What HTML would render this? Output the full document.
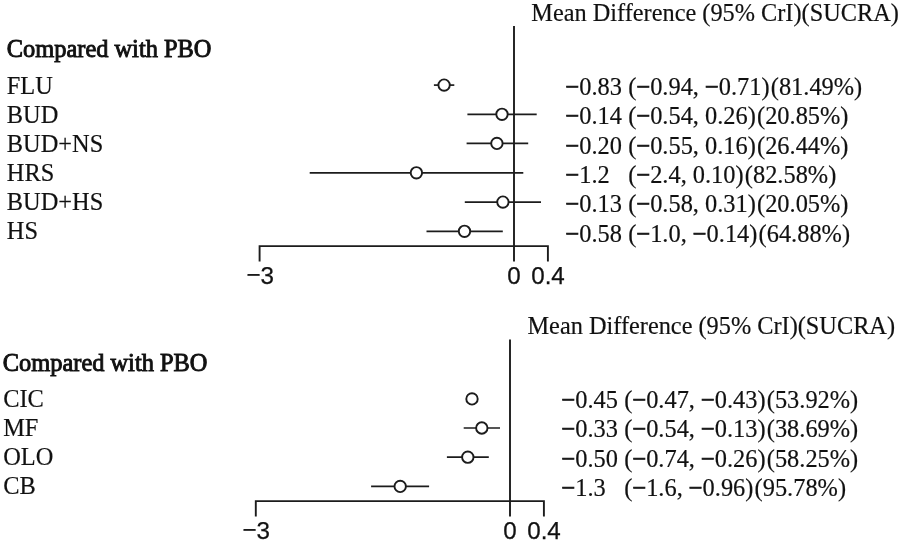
<!DOCTYPE html>
<html><head><meta charset="utf-8"><title>Forest plot</title>
<style>
html,body{margin:0;padding:0;background:#fff;}
svg{display:block;will-change:transform;-webkit-font-smoothing:antialiased}
text{font-family:"Liberation Serif","Times New Roman",serif;font-size:24.4px;fill:#111;white-space:pre;stroke:#111;stroke-width:0.18px}
text.b{stroke:#111;stroke-width:0.9px;letter-spacing:0px}
tspan.m{stroke-width:0.8px}
text.h{font-size:24.32px}
text.s{font-family:"Liberation Sans",Arial,sans-serif;font-size:24.2px;text-anchor:middle;stroke-width:0.25px}
line,polyline,circle{stroke:#1c1c1c;stroke-width:1.9}
line.w{stroke-width:1.7}
</style></head><body>
<svg width="902" height="542" viewBox="0 0 902 542">
<rect width="902" height="542" fill="#fff"/>
<g>
<line x1="514.0" y1="25.9" x2="514.0" y2="261.4"/>
<polyline points="259.6,261.4 259.6,246.1 547.9,246.1 547.9,261.4" fill="none"/>
<line class="w" x1="433.9" y1="85.1" x2="454.3" y2="85.1"/>
<circle cx="444.1" cy="85.1" r="5.7" fill="#fff"/>
<line class="w" x1="467.4" y1="114.3" x2="536.7" y2="114.3"/>
<circle cx="502" cy="114.3" r="5.7" fill="#fff"/>
<line class="w" x1="466.6" y1="143.4" x2="528.2" y2="143.4"/>
<circle cx="496.9" cy="143.4" r="5.7" fill="#fff"/>
<line class="w" x1="309.7" y1="172.8" x2="523.3" y2="172.8"/>
<circle cx="416.4" cy="172.8" r="5.7" fill="#fff"/>
<line class="w" x1="464.8" y1="202.1" x2="541" y2="202.1"/>
<circle cx="502.9" cy="202.1" r="5.7" fill="#fff"/>
<line class="w" x1="426.5" y1="231.3" x2="502.8" y2="231.3"/>
<circle cx="464.5" cy="231.3" r="5.7" fill="#fff"/>
<line x1="510.0" y1="339.4" x2="510.0" y2="516.4"/>
<polyline points="255.8,516.4 255.8,501.1 543.9,501.1 543.9,516.4" fill="none"/>
<circle cx="472" cy="398.9" r="5.7" fill="#fff"/>
<line class="w" x1="463.7" y1="428" x2="500" y2="428"/>
<circle cx="481.8" cy="428" r="5.7" fill="#fff"/>
<line class="w" x1="446.9" y1="457.2" x2="488.8" y2="457.2"/>
<circle cx="467.8" cy="457.2" r="5.7" fill="#fff"/>
<line class="w" x1="371.1" y1="486.4" x2="429.1" y2="486.4"/>
<circle cx="400.2" cy="486.4" r="5.7" fill="#fff"/>
</g>
<g>
<text class="h" x="531.3" y="21.1">Mean Difference (95% CrI)(SUCRA)</text>
<text class="b" x="6.8" y="57">Compared with PBO</text>
<text x="6.8" y="93.6">FLU</text>
<text class="v" y="94.7"><tspan x="565.5"><tspan class="m">−</tspan>0.83</tspan><tspan x="628.25">(<tspan class="m">−</tspan>0.94, <tspan class="m">−</tspan>0.71)</tspan><tspan dx="1.2">(81.49%)</tspan></text>
<text x="6.8" y="122.6">BUD</text>
<text class="v" y="123.9"><tspan x="565.5"><tspan class="m">−</tspan>0.14</tspan><tspan x="628.25">(<tspan class="m">−</tspan>0.54, 0.26)</tspan><tspan dx="1.2">(20.85%)</tspan></text>
<text x="6.8" y="151.6">BUD+NS</text>
<text class="v" y="153.5"><tspan x="565.5"><tspan class="m">−</tspan>0.20</tspan><tspan x="628.25">(<tspan class="m">−</tspan>0.55, 0.16)</tspan><tspan dx="1.2">(26.44%)</tspan></text>
<text x="6.8" y="180.7">HRS</text>
<text class="v" y="182.8"><tspan x="565.5"><tspan class="m">−</tspan>1.2</tspan><tspan x="628.25">(<tspan class="m">−</tspan>2.4, 0.10)</tspan><tspan dx="1.2">(82.58%)</tspan></text>
<text x="6.8" y="209.7">BUD+HS</text>
<text class="v" y="212.1"><tspan x="565.5"><tspan class="m">−</tspan>0.13</tspan><tspan x="628.25">(<tspan class="m">−</tspan>0.58, 0.31)</tspan><tspan dx="1.2">(20.05%)</tspan></text>
<text x="6.8" y="238.8">HS</text>
<text class="v" y="241.5"><tspan x="565.5"><tspan class="m">−</tspan>0.58</tspan><tspan x="628.25">(<tspan class="m">−</tspan>1.0, <tspan class="m">−</tspan>0.14)</tspan><tspan dx="1.2">(64.88%)</tspan></text>
<text class="h" x="527.5" y="333.9">Mean Difference (95% CrI)(SUCRA)</text>
<text class="b" x="2.8" y="370.5">Compared with PBO</text>
<text x="3.2" y="406.6">CIC</text>
<text class="v" y="407.8"><tspan x="561.5"><tspan class="m">−</tspan>0.45</tspan><tspan x="624.25">(<tspan class="m">−</tspan>0.47, <tspan class="m">−</tspan>0.43)</tspan><tspan dx="1.2">(53.92%)</tspan></text>
<text x="3.2" y="435.9">MF</text>
<text class="v" y="437.1"><tspan x="561.5"><tspan class="m">−</tspan>0.33</tspan><tspan x="624.25">(<tspan class="m">−</tspan>0.54, <tspan class="m">−</tspan>0.13)</tspan><tspan dx="1.2">(38.69%)</tspan></text>
<text x="3.2" y="465.1">OLO</text>
<text class="v" y="466.7"><tspan x="561.5"><tspan class="m">−</tspan>0.50</tspan><tspan x="624.25">(<tspan class="m">−</tspan>0.74, <tspan class="m">−</tspan>0.26)</tspan><tspan dx="1.2">(58.25%)</tspan></text>
<text x="3.2" y="494.1">CB</text>
<text class="v" y="496.2"><tspan x="561.5"><tspan class="m">−</tspan>1.3</tspan><tspan x="624.25">(<tspan class="m">−</tspan>1.6, <tspan class="m">−</tspan>0.96)</tspan><tspan dx="1.2">(95.78%)</tspan></text>
<text class="s" x="260.2" y="284.2"><tspan dy="-0.8">−</tspan><tspan dy="0.8">3</tspan></text><text class="s" x="514" y="284.2">0</text><text class="s" x="548" y="284.2">0.4</text>
<text class="s" x="256.2" y="539.2"><tspan dy="-0.8">−</tspan><tspan dy="0.8">3</tspan></text><text class="s" x="510" y="539.2">0</text><text class="s" x="544" y="539.2">0.4</text>
</g>
</svg>
</body></html>
